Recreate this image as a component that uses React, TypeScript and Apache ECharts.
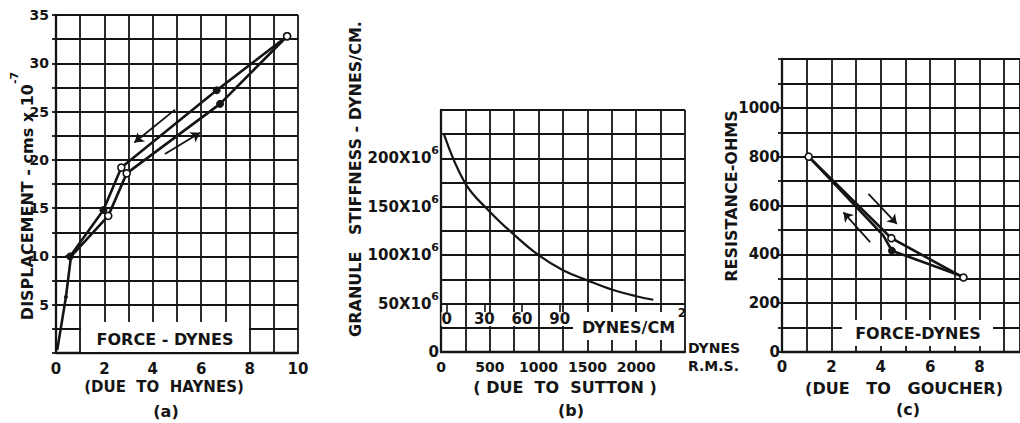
import React, { useEffect, useRef } from "react";
import * as echarts from "echarts";

// ---------- Panel (a): displacement vs force (due to Haynes) ----------
const haynesRisingForce = [0.05, 0.41, 0.62, 2.16, 2.92, 6.78, 9.55];
const haynesRisingDisp = [0.3, 5.8, 10.0, 14.2, 18.6, 25.8, 32.8];
const haynesRisingMarks = ["none", "dot", "none", "open", "open", "filled", "open"];
const haynesFallingForce = [9.55, 6.64, 2.7, 1.96, 0.58, 0.38];
const haynesFallingDisp = [32.8, 27.2, 19.2, 14.8, 10.0, 10.0];
const haynesFallingMarks = ["open", "filled", "open", "filled", "filled", "none"];
const haynesXLabels = [0, 2, 4, 6, 8, 10];
const haynesYLabels = [5, 10, 15, 20, 25, 30, 35];
// arrows [x1, y1, x2, y2] (head at the second point)
const haynesArrows = [
  [4.92, 25.2, 3.24, 21.8],
  [4.5, 20.6, 5.95, 22.8],
];

// ---------- Panel (b): granule stiffness vs force (due to Sutton) ----------
const suttonForce = [30, 250, 500, 750, 1000, 1250, 1500, 1750, 2000, 2175];
const suttonStiffness = [225, 174, 145, 121, 100, 84.5, 74, 64.5, 57.6, 54];
const suttonXLabels = [0, 500, 1000, 1500, 2000];
const suttonYLabels = [0, 50, 100, 150, 200];
const suttonPressureLabels = [0, 30, 60, 90];

// ---------- Panel (c): resistance vs force (due to Goucher) ----------
const goucherRisingForce = [1.08, 4.43, 7.35];
const goucherRisingRes = [800, 466, 305];
const goucherRisingMarks = ["open", "open", "open"];
const goucherFallingForce = [1.08, 4.1, 4.45, 7.35];
const goucherFallingRes = [800, 478, 415, 308];
const goucherFallingMarks = ["none", "none", "filled", "none"];
const goucherXLabels = [0, 2, 4, 6, 8];
const goucherYLabels = [0, 200, 400, 600, 800, 1000];
const goucherArrows = [
  [3.5, 648, 4.65, 525],
  [3.57, 450, 2.49, 572],
];

const FONT = "'DejaVu Sans', 'Liberation Sans', sans-serif";
const INK = "#141414";

function marked(xs: number[], ys: number[], marks: string[]) {
  return xs.map((x, i) => {
    const m = marks[i];
    const base = { value: [x, ys[i]] };
    if (m === "none") return { ...base, symbol: "none" };
    if (m === "open")
      return {
        ...base,
        symbol: "circle",
        symbolSize: 7,
        itemStyle: { color: "#fff", borderColor: INK, borderWidth: 1.6 },
      };
    if (m === "dot")
      return { ...base, symbol: "circle", symbolSize: 4, itemStyle: { color: INK, borderWidth: 0 } };
    return {
      ...base,
      symbol: "circle",
      symbolSize: 7,
      itemStyle: { color: INK, borderColor: INK, borderWidth: 1 },
    };
  });
}

function arrowMarkLine(arrows: number[][]) {
  return {
    silent: true,
    symbol: ["none", "arrow"],
    symbolSize: 9,
    label: { show: false },
    emphasis: { disabled: true },
    lineStyle: { color: INK, width: 1.8, type: "solid" },
    data: arrows.map((a) => [{ coord: [a[0], a[1]] }, { coord: [a[2], a[3]] }]),
  };
}

const gridLine = { show: true, lineStyle: { color: INK, width: 1.8 } };
const axisLine = { show: true, onZero: false, lineStyle: { color: INK, width: 2.3 } };
const yTick = { show: true, length: 4, lineStyle: { color: INK, width: 1.8 } };
const labelBase = { color: INK, fontFamily: FONT, fontWeight: "bold" as const };

function labelIn(list: number[]) {
  return (v: number) => (list.includes(v) ? String(v) : "");
}

function vText(x: number, y: number, text: string, size: number, rich?: any) {
  return {
    type: "text",
    x,
    y,
    rotation: Math.PI / 2,
    z: 100,
    style: {
      text,
      fontSize: size,
      fontFamily: FONT,
      fontWeight: "bold",
      fill: INK,
      align: "center",
      verticalAlign: "middle",
      rich,
    },
  };
}

function hText(x: number, y: number, text: string, size: number, align = "center") {
  return {
    type: "text",
    x,
    y,
    z: 100,
    style: {
      text,
      fontSize: size,
      fontFamily: FONT,
      fontWeight: "bold",
      fill: INK,
      align,
      verticalAlign: "middle",
    },
  };
}

function whiteBox(x: number, y: number, w: number, h: number) {
  return { type: "rect", z: 90, shape: { x, y, width: w, height: h }, style: { fill: "#fff" } };
}

const lineSeriesBase = {
  type: "line",
  showSymbol: true,
  lineStyle: { color: INK, width: 2.6 },
  itemStyle: { color: INK },
  emphasis: { disabled: true },
  z: 5,
};

const option: any = {
  animation: false,
  backgroundColor: "#fff",
  grid: [
    { left: 56, top: 15, width: 242, height: 338, outerBoundsMode: "none" },
    { left: 441, top: 110, width: 244, height: 242, outerBoundsMode: "none" },
    { left: 782, top: 59, width: 238, height: 293, outerBoundsMode: "none" },
  ],
  xAxis: [
    {
      type: "value",
      gridIndex: 0,
      min: 0,
      max: 10,
      interval: 1,
      axisLine,
      axisTick: { show: false },
      splitLine: gridLine,
      axisLabel: { ...labelBase, fontSize: 15, margin: 8, formatter: labelIn(haynesXLabels) },
    },
    {
      type: "value",
      gridIndex: 1,
      min: 0,
      max: 2500,
      interval: 250,
      axisLine,
      axisTick: { show: false },
      splitLine: gridLine,
      axisLabel: { ...labelBase, fontSize: 14, margin: 8, formatter: labelIn(suttonXLabels) },
    },
    {
      type: "value",
      gridIndex: 2,
      min: 0,
      max: 9.64,
      interval: 1,
      axisLine,
      axisTick: { show: false },
      splitLine: gridLine,
      axisLabel: { ...labelBase, fontSize: 15, margin: 7, formatter: labelIn(goucherXLabels) },
    },
    {
      type: "value",
      gridIndex: 1,
      min: -4.5,
      max: 189.7,
      position: "bottom",
      offset: -48,
      axisLine: { show: false },
      splitLine: { show: false },
      axisTick: {
        show: true,
        customValues: suttonPressureLabels,
        length: 8,
        lineStyle: { color: INK, width: 1.6 },
      },
      axisLabel: {
        ...labelBase,
        fontSize: 15,
        margin: 8,
        lineHeight: 14,
        customValues: suttonPressureLabels,
        backgroundColor: "#fff",
        padding: 0,
        formatter: (v: number) => String(v),
      },
    },
  ],
  yAxis: [
    {
      type: "value",
      gridIndex: 0,
      min: 0,
      max: 35,
      interval: 2.5,
      axisLine,
      axisTick: yTick,
      splitLine: gridLine,
      axisLabel: { ...labelBase, fontSize: 14, margin: 7, formatter: labelIn(haynesYLabels) },
    },
    {
      type: "value",
      gridIndex: 1,
      min: 0,
      max: 250,
      interval: 25,
      axisLine,
      axisTick: { show: false },
      splitLine: gridLine,
      axisLabel: {
        ...labelBase,
        fontSize: 15,
        margin: 2,
        formatter: (v: number) =>
          !suttonYLabels.includes(v) ? "" : v === 0 ? "{m|0}" : `{m|${v}X10}{s|6}`,
        rich: {
          m: { ...labelBase, fontSize: 15, lineHeight: 26 },
          s: { ...labelBase, fontSize: 11, lineHeight: 11, verticalAlign: "top" },
        },
      },
    },
    {
      type: "value",
      gridIndex: 2,
      min: 0,
      max: 1200,
      interval: 100,
      axisLine,
      axisTick: yTick,
      splitLine: gridLine,
      axisLabel: { ...labelBase, fontSize: 15, margin: 2, formatter: labelIn(goucherYLabels) },
    },
  ],
  series: [
    {
      ...lineSeriesBase,
      name: "Haynes rising",
      xAxisIndex: 0,
      yAxisIndex: 0,
      data: marked(haynesRisingForce, haynesRisingDisp, haynesRisingMarks),
      markLine: arrowMarkLine(haynesArrows),
    },
    {
      ...lineSeriesBase,
      name: "Haynes falling",
      xAxisIndex: 0,
      yAxisIndex: 0,
      data: marked(haynesFallingForce, haynesFallingDisp, haynesFallingMarks),
    },
    {
      ...lineSeriesBase,
      name: "Sutton",
      xAxisIndex: 1,
      yAxisIndex: 1,
      smooth: 0.4,
      showSymbol: false,
      symbol: "none",
      lineStyle: { color: INK, width: 2.2 },
      data: suttonForce.map((x, i) => [x, suttonStiffness[i]]),
    },
    {
      ...lineSeriesBase,
      name: "Goucher rising",
      xAxisIndex: 2,
      yAxisIndex: 2,
      data: marked(goucherRisingForce, goucherRisingRes, goucherRisingMarks),
      markLine: arrowMarkLine(goucherArrows),
    },
    {
      ...lineSeriesBase,
      name: "Goucher falling",
      xAxisIndex: 2,
      yAxisIndex: 2,
      data: marked(goucherFallingForce, goucherFallingRes, goucherFallingMarks),
    },
  ],
  graphic: [
    // axis titles
    vText(22, 196, "{m|DISPLACEMENT - cms x 10}{s|-7}", 16, {
      m: { fontSize: 16, fontFamily: FONT, fontWeight: "bold", fill: INK, lineHeight: 26, verticalAlign: "bottom" },
      s: { fontSize: 11, fontFamily: FONT, fontWeight: "bold", fill: INK, lineHeight: 11, verticalAlign: "top" },
    }),
    vText(355, 179, "GRANULE   STIFFNESS - DYNES/CM.", 16),
    vText(731, 196, "RESISTANCE-OHMS", 16),
    // captions
    hText(164, 387, "(DUE  TO  HAYNES)", 15),
    hText(166, 411, "(a)", 16),
    hText(565, 387, "( DUE  TO  SUTTON )", 16),
    hText(571, 410, "(b)", 16),
    hText(904, 388, "(DUE   TO   GOUCHER)", 16),
    hText(908, 409, "(c)", 16),
    hText(688, 348, "DYNES", 14, "left"),
    hText(688, 366, "R.M.S.", 14, "left"),
    // in-plot labels
    whiteBox(81, 322, 168, 30),
    hText(165, 339, "FORCE - DYNES", 16),
    whiteBox(842, 320, 151, 26),
    hText(918, 333, "FORCE-DYNES", 16),
    whiteBox(573, 312, 111, 28),
    hText(582, 327, "DYNES/CM", 16, "left"),
    hText(682, 313, "2", 12),
  ],
};

export default function App() {
  const ref = useRef<HTMLDivElement>(null);
  useEffect(() => {
    const chart = echarts.init(ref.current!, undefined, { renderer: "svg" });
    chart.setOption(option);
    return () => chart.dispose();
  }, []);
  return (
    <div
      ref={ref}
      style={{ position: "fixed", left: 0, top: 0, width: 1020, height: 423, background: "#fff" }}
    />
  );
}
